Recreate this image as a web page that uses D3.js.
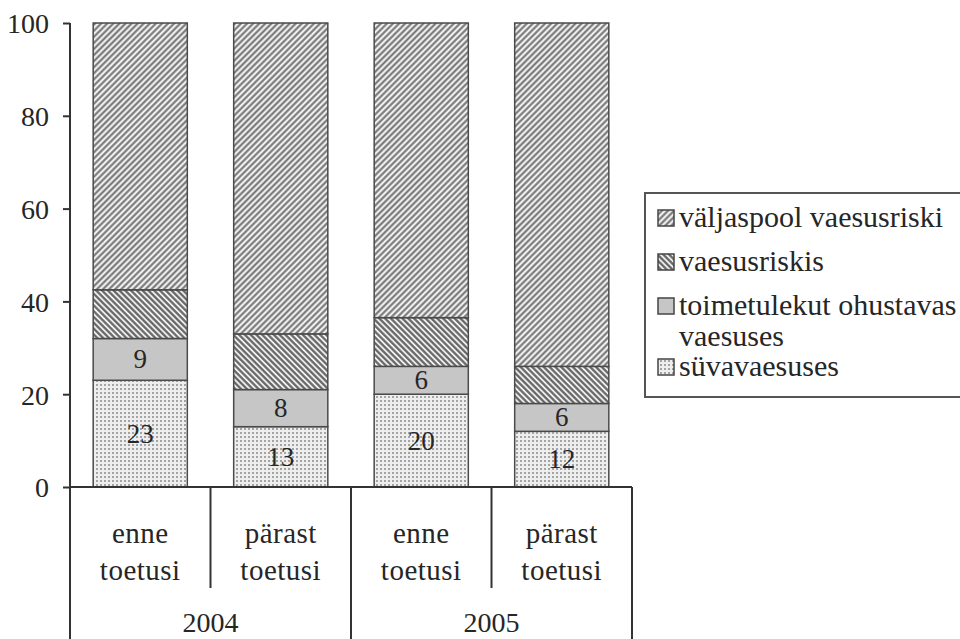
<!DOCTYPE html>
<html lang="et">
<head>
    <meta charset="UTF-8">
    <title>Vaesus enne ja pärast toetusi</title>
    <script src="https://d3js.org/d3.v7.min.js"></script>
    <style>
        body {
            margin: 0;
            padding: 0;
            background: #fff;
        }
        svg {
            display: block;
        }
        svg text {
            font-family: "Liberation Serif", "DejaVu Serif", serif !important;
            fill: #262626;
        }
    </style>
</head>
<body>
    <svg width="960" height="639"></svg>

    <script>
        // andmed
        const years = ["2004", "2005"];
        const stages = ["enne|toetusi", "pärast|toetusi"];
        const categories = ["2004 enne", "2004 pärast", "2005 enne", "2005 pärast"];
        const syvavaesuses = [23, 13, 20, 12];
        const toimetulekut = [9, 8, 6, 6];
        const vaesusriskis = [10.5, 12, 10.5, 8];
        const valjaspool = [57.5, 67, 63.5, 74];
        const yTicks = [0, 20, 40, 60, 80, 100];
        const seriesNames = ["süvavaesuses", "toimetulekut ohustavas vaesuses", "vaesusriskis", "väljaspool vaesusriski"];

        const table = categories.map((c, i) => ({
            cat: c,
            s0: syvavaesuses[i],
            s1: toimetulekut[i],
            s2: vaesusriskis[i],
            s3: valjaspool[i]
        }));
        const keys = ["s0", "s1", "s2", "s3"];

        const svg = d3.select("svg");
        const defs = svg.append("defs");

        // mustrid
        function hatch(id, angle, size, sw, color) {
            const p = defs.append("pattern")
                .attr("id", id)
                .attr("patternUnits", "userSpaceOnUse")
                .attr("width", size)
                .attr("height", size)
                .attr("patternTransform", `rotate(${angle})`);
            p.append("rect").attr("width", size).attr("height", size).attr("fill", "#f0f0f0");
            p.append("line")
                .attr("x1", size / 2).attr("y1", 0)
                .attr("x2", size / 2).attr("y2", size)
                .attr("stroke", color)
                .attr("stroke-width", sw);
        }
        hatch("p3", 45, 4.3, 2, "#727272");
        hatch("p2", -45, 4.1, 2.2, "#646464");

        const dots = defs.append("pattern")
            .attr("id", "p0")
            .attr("patternUnits", "userSpaceOnUse")
            .attr("width", 4)
            .attr("height", 4);
        dots.append("rect").attr("width", 4).attr("height", 4).attr("fill", "#eeeeee");
        dots.append("rect").attr("width", 2).attr("height", 2).attr("fill", "#a4a4a4");

        const fills = {s0: "url(#p0)", s1: "#c6c6c6", s2: "url(#p2)", s3: "url(#p3)"};

        const x = d3.scaleBand()
            .domain(categories)
            .range([70, 632])
            .paddingInner(0.33)
            .paddingOuter(0.165);

        const y = d3.scaleLinear()
            .domain([0, 100])
            .range([487, 23]);

        const stack = d3.stack().keys(keys)(table);

        // tulbad
        const layers = svg.append("g").selectAll("g")
            .data(stack)
            .join("g")
            .attr("fill", d => fills[d.key]);

        layers.selectAll("rect")
            .data(d => d)
            .join("rect")
            .attr("x", d => x(d.data.cat))
            .attr("y", d => y(d[1]))
            .attr("width", x.bandwidth())
            .attr("height", d => y(d[0]) - y(d[1]))
            .attr("stroke", "#4a4a4a")
            .attr("stroke-width", 1.5);

        // väärtused tulpades
        stack.slice(0, 2).forEach(layer => {
            svg.append("g").selectAll("text")
                .data(layer)
                .join("text")
                .attr("x", d => x(d.data.cat) + x.bandwidth() / 2)
                .attr("y", d => (y(d[0]) + y(d[1])) / 2 + 9)
                .attr("text-anchor", "middle")
                .attr("font-size", 27)
                .text(d => d[1] - d[0]);
        });

        // y-telg
        const yAxis = svg.append("g")
            .attr("transform", "translate(70,0)")
            .call(d3.axisLeft(y).tickValues(yTicks).tickSize(7).tickPadding(14));
        yAxis.attr("font-family", null);
        yAxis.select(".domain").remove();
        yAxis.selectAll("line").attr("stroke", "#333").attr("stroke-width", 2);
        yAxis.selectAll("text")
            .attr("font-size", 28)
            .attr("dy", "0.35em");

        const axisG = svg.append("g").attr("stroke", "#333").attr("stroke-width", 2);
        axisG.append("line").attr("x1", 70).attr("x2", 70).attr("y1", y(100)).attr("y2", 639);
        axisG.append("line").attr("x1", 70).attr("x2", 632).attr("y1", y(0)).attr("y2", y(0));

        // kategooriate piirid
        const step = x.step();
        const left = x(categories[0]) - x.paddingOuter() * step;
        d3.range(1, categories.length + 1).forEach(i => {
            const xx = left + i * step;
            const full = i % 2 === 0;
            axisG.append("line")
                .attr("x1", xx).attr("x2", xx)
                .attr("y1", y(0))
                .attr("y2", full ? 639 : 588);
        });

        // kategooria sildid
        const labG = svg.append("g").attr("font-size", 29).attr("text-anchor", "middle");
        categories.forEach((c, i) => {
            const cx = x(c) + x.bandwidth() / 2;
            const parts = stages[i % 2].split("|");
            parts.forEach((p, j) => {
                labG.append("text")
                    .attr("x", cx)
                    .attr("y", 543 + j * 37)
                    .attr("letter-spacing", 0.5)
                    .text(p);
            });
        });
        years.forEach((yr, i) => {
            labG.append("text")
                .attr("x", left + step * (2 * i + 1))
                .attr("y", 632)
                .attr("font-size", 28)
                .text(yr);
        });

        // legend
        const leg = svg.append("g");
        leg.append("rect")
            .attr("x", 645).attr("y", 193)
            .attr("width", 330).attr("height", 204)
            .attr("fill", "#fff")
            .attr("stroke", "#555")
            .attr("stroke-width", 2);

        const legRows = [
            {key: "s3", lines: [seriesNames[3]], y: 218},
            {key: "s2", lines: [seriesNames[2]], y: 262},
            {key: "s1", lines: ["toimetulekut ohustavas", "vaesuses"], y: 306},
            {key: "s0", lines: [seriesNames[0]], y: 367}
        ];
        legRows.forEach(r => {
            leg.append("rect")
                .attr("x", 658).attr("y", r.y - 8)
                .attr("width", 16).attr("height", 16)
                .attr("fill", fills[r.key])
                .attr("stroke", "#444")
                .attr("stroke-width", 1.5);
            r.lines.forEach((t, j) => {
                leg.append("text")
                    .attr("x", 679)
                    .attr("y", r.y + 9 + j * 31)
                    .attr("font-size", 30)
                    .text(t);
            });
        });
    </script>
</body>
</html>
